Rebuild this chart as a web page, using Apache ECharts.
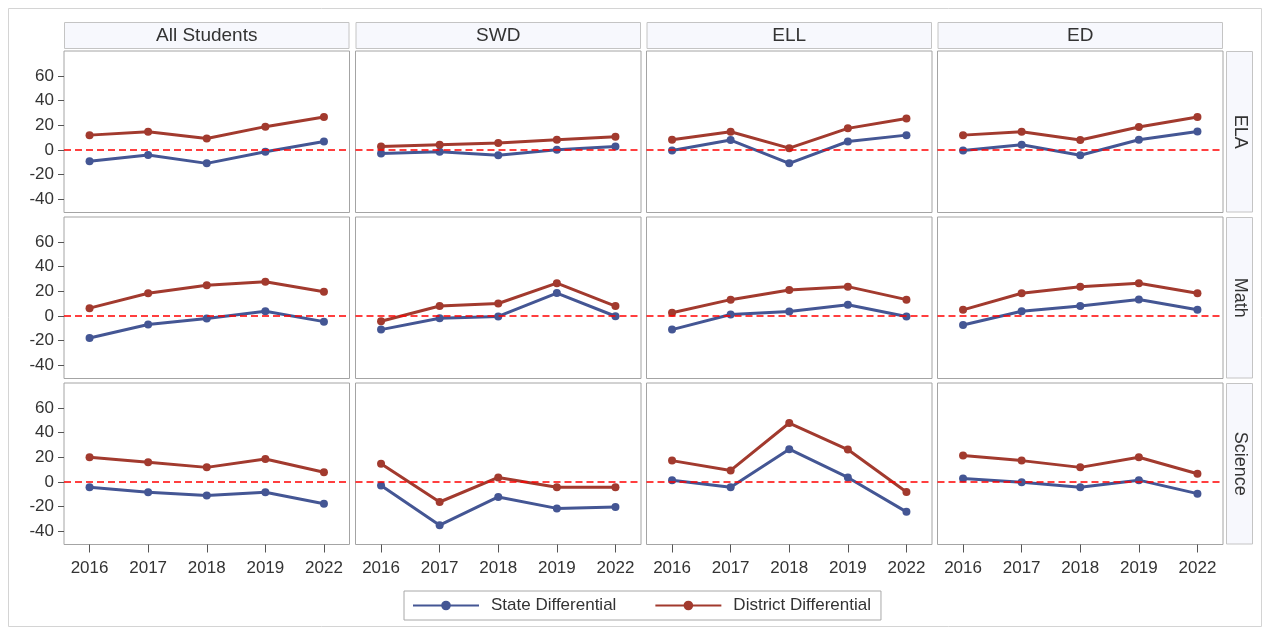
<!DOCTYPE html>
<html>
<head>
<meta charset="utf-8">
<script src="https://cdn.jsdelivr.net/npm/echarts@6/dist/echarts.min.js"></script>
<style>html,body{margin:0;padding:0;background:#fff;}#c{width:1268px;height:631px;}</style>
</head>
<body>
<div id="c"></div>
<script>
const years = ['2016', '2017', '2018', '2019', '2022'];
const groups = ['All Students', 'SWD', 'ELL', 'ED'];
const subjects = ['ELA', 'Math', 'Science'];
const yTicks = [-40, -20, 0, 20, 40, 60];

// per group: All Students, SWD, ELL, ED
const stateELA = [
  [-9.3, -4.1, -11.0, -1.6, 6.8],
  [-3.0, -1.6, -4.4, 0.0, 2.7],
  [-0.5, 8.0, -11.0, 6.8, 12.0],
  [-0.5, 4.1, -4.4, 8.2, 15.0]
];
const districtELA = [
  [12.0, 14.8, 9.3, 18.9, 26.8],
  [2.7, 4.1, 5.5, 8.2, 10.7],
  [8.2, 14.8, 1.4, 17.5, 25.5],
  [12.0, 14.8, 8.0, 18.6, 26.8]
];
const stateMath = [
  [-18.0, -7.1, -2.2, 3.8, -4.7],
  [-11.2, -1.9, -0.5, 18.6, -0.3],
  [-11.2, 1.1, 3.6, 9.0, -0.5],
  [-7.4, 3.8, 8.0, 13.4, 4.9]
];
const districtMath = [
  [6.3, 18.4, 24.9, 27.7, 19.7],
  [-4.4, 8.0, 10.1, 26.6, 8.0],
  [2.5, 13.2, 21.1, 23.8, 13.2],
  [4.9, 18.4, 23.8, 26.6, 18.4]
];
const stateScience = [
  [-4.4, -8.5, -11.2, -8.5, -17.8],
  [-3.0, -35.3, -12.3, -21.6, -20.5],
  [1.4, -4.4, 26.6, 3.6, -24.4],
  [2.7, -0.3, -4.4, 1.4, -9.6]
];
const districtScience = [
  [20.0, 15.9, 11.8, 18.6, 7.9],
  [14.8, -16.4, 3.6, -4.4, -4.4],
  [17.3, 9.3, 47.9, 26.3, -8.2],
  [21.4, 17.3, 11.8, 20.0, 6.6]
];

const stateBySubject = [stateELA, stateMath, stateScience];
const districtBySubject = [districtELA, districtMath, districtScience];

const STATE_COLOR = '#445694';
const DISTRICT_COLOR = '#A23A2E';
const FONT = '"Liberation Sans", Arial, sans-serif';
const TXT = '#333333';

const colLeft = [64, 355.5, 646.5, 937.5];
const colW = 285.5;
const rowTop = [51, 217, 383];
const rowH = 161.5;
const pad = 0.436;

const grids = [], xAxes = [], yAxes = [], series = [], graphics = [];
let idx = 0;
subjects.forEach((subj, r) => {
  groups.forEach((grp, c) => {
    grids.push({left: colLeft[c], top: rowTop[r], width: colW, height: rowH,
      show: true, borderColor: '#a4a4a4', borderWidth: 1, backgroundColor: '#ffffff', containLabel: false});
    const bottomRow = r === subjects.length - 1;
    const firstCol = c === 0;
    xAxes.push({type: 'value', gridIndex: idx, min: -pad, max: years.length - 1 + pad, position: 'bottom',
      axisLine: {show: false, onZero: false}, splitLine: {show: false},
      axisTick: {show: bottomRow, customValues: years.map((y, i) => i), length: 8, lineStyle: {color: '#555'}},
      axisLabel: {show: bottomRow, customValues: years.map((y, i) => i), formatter: v => years[Math.round(v)],
        fontFamily: FONT, fontSize: 17, color: TXT, margin: 15}
    });
    yAxes.push({type: 'value', gridIndex: idx, min: -51, max: 80.5, position: 'left',
      axisLine: {show: false, onZero: false}, splitLine: {show: false},
      axisTick: {show: firstCol, customValues: yTicks, length: 6, lineStyle: {color: '#555'}},
      axisLabel: {show: firstCol, customValues: yTicks, fontFamily: FONT, fontSize: 17, color: TXT, margin: 10}
    });
    series.push({type: 'line', xAxisIndex: idx, yAxisIndex: idx, data: [], z: 1, silent: true,
      markLine: {silent: true, symbol: 'none', label: {show: false},
        lineStyle: {color: '#ff0000', type: [7, 4], width: 1.5}, data: [{yAxis: 0}]}
    });
    series.push({name: 'State Differential', type: 'line', xAxisIndex: idx, yAxisIndex: idx, z: 3,
      data: stateBySubject[r][c].map((v, i) => [i, v]),
      symbol: 'circle', symbolSize: 8, itemStyle: {color: STATE_COLOR},
      lineStyle: {color: STATE_COLOR, width: 3}, emphasis: {disabled: true}});
    series.push({name: 'District Differential', type: 'line', xAxisIndex: idx, yAxisIndex: idx, z: 3,
      data: districtBySubject[r][c].map((v, i) => [i, v]),
      symbol: 'circle', symbolSize: 8, itemStyle: {color: DISTRICT_COLOR},
      lineStyle: {color: DISTRICT_COLOR, width: 3}, emphasis: {disabled: true}});
    idx++;
  });
});

// outer frame
graphics.push({type: 'rect', shape: {x: 8.5, y: 8.5, width: 1253, height: 618}, style: {fill: 'none', stroke: '#d4d4d4', lineWidth: 1}, z: -10});
// column headers
groups.forEach((g, c) => {
  graphics.push({type: 'rect', shape: {x: colLeft[c] + 0.5, y: 22.5, width: colW - 1, height: 26},
    style: {fill: '#f7f8fd', stroke: '#c4c4c4', lineWidth: 1}});
  graphics.push({type: 'text', x: colLeft[c] + colW / 2, y: 36,
    style: {text: g, fill: TXT, font: '19px ' + FONT, textAlign: 'center', textVerticalAlign: 'middle'}});
});
// row headers
subjects.forEach((s, r) => {
  graphics.push({type: 'rect', shape: {x: 1226.5, y: rowTop[r] + 0.5, width: 26, height: rowH - 1},
    style: {fill: '#f7f8fd', stroke: '#c4c4c4', lineWidth: 1}});
  graphics.push({type: 'text', x: 1240, y: rowTop[r] + rowH / 2, rotation: -Math.PI / 2,
    style: {text: s, fill: TXT, font: '18px ' + FONT, textAlign: 'center', textVerticalAlign: 'middle'}});
});

const chart = echarts.init(document.getElementById('c'), null, {renderer: 'canvas'});
chart.setOption({
  animation: false,
  backgroundColor: '#ffffff',
  grid: grids,
  xAxis: xAxes,
  yAxis: yAxes,
  series: series,
  graphic: graphics,
  legend: {
    data: ['State Differential', 'District Differential'],
    left: 404, top: 591,
    itemWidth: 66, itemHeight: 12, itemGap: 38,
    borderColor: '#a8a8a8', borderWidth: 1, padding: [6, 10, 6, 8],
    textStyle: {fontFamily: FONT, fontSize: 17, color: TXT, padding: [0, 0, 0, 7]},
    selectedMode: false
  }
});
</script>
</body>
</html>
